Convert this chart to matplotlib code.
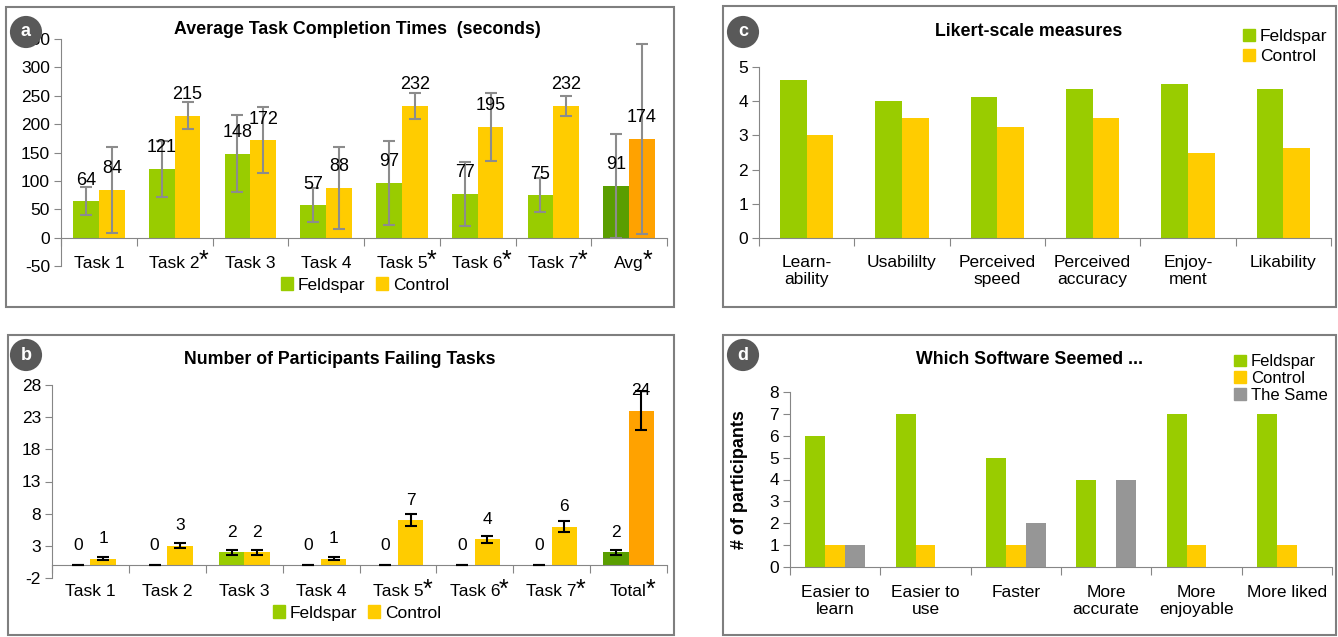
import numpy as np
import matplotlib
matplotlib.use('Agg')
import matplotlib.pyplot as plt
from matplotlib.patches import Rectangle, Patch

plt.rcParams['font.family'] = ['Liberation Sans', 'DejaVu Sans']
plt.rcParams['axes.unicode_minus'] = False

# --- data ---
tasks_a = ['Task 1', 'Task 2', 'Task 3', 'Task 4', 'Task 5', 'Task 6', 'Task 7', 'Avg']
stars_a = [False, True, False, False, True, True, True, True]
feld_time = [64, 121, 148, 57, 97, 77, 75, 91]
ctrl_time = [84, 215, 172, 88, 232, 195, 232, 174]
feld_time_err = [25, 50, 68, 30, 74, 57, 30, 92]
ctrl_time_err = [76, 24, 58, 72, 23, 60, 18, 167]

tasks_b = ['Task 1', 'Task 2', 'Task 3', 'Task 4', 'Task 5', 'Task 6', 'Task 7', 'Total']
stars_b = [False, False, False, False, True, True, True, True]
feld_fail = [0, 0, 2, 0, 0, 0, 0, 2]
ctrl_fail = [1, 3, 2, 1, 7, 4, 6, 24]
feld_fail_err = [0, 0, 0.4, 0, 0, 0, 0, 0.4]
ctrl_fail_err = [0.2, 0.4, 0.4, 0.2, 0.9, 0.6, 0.8, 3.0]

likert_items = ['Learn-\nability', 'Usabililty', 'Perceived\nspeed', 'Perceived\naccuracy',
                'Enjoy-\nment', 'Likability']
feld_likert = [4.63, 4.0, 4.12, 4.37, 4.5, 4.37]
ctrl_likert = [3.0, 3.51, 3.25, 3.5, 2.5, 2.63]

pref_items = ['Easier to\nlearn', 'Easier to\nuse', 'Faster', 'More\naccurate',
              'More\nenjoyable', 'More liked']
pref_feld = [6, 7, 5, 4, 7, 7]
pref_ctrl = [1, 1, 1, 0, 1, 1]
pref_same = [1, 0, 2, 4, 0, 0]

GREEN = '#99cc00'
YELLOW = '#ffcc00'
DKGREEN = '#5a9e00'
ORANGE = '#ffa200'
GRAY = '#969696'
AXC = '#868686'
FS = 12.5

W, H = 1338, 637
fig = plt.figure(figsize=(W / 100, H / 100), dpi=100)


def px_axes(x0, y0, x1, y1):
    # pixel box (top-left origin) -> figure axes
    return fig.add_axes([x0 / W, 1 - y1 / H, (x1 - x0) / W, (y1 - y0) / H])


def frame(x0, y0, x1, y1):
    fig.add_artist(Rectangle((x0 / W, 1 - y1 / H), (x1 - x0) / W, (y1 - y0) / H,
                             transform=fig.transFigure, fill=False, ec='#7f7f7f', lw=1.5))


def setup(ax, n, ylim, yticks):
    ax.set_xlim(-0.5, n - 0.5)
    ax.set_ylim(*ylim)
    ax.set_yticks(yticks)
    for s in ['top', 'right']:
        ax.spines[s].set_visible(False)
    ax.spines['bottom'].set_position(('data', 0))
    ax.spines['left'].set_color(AXC)
    ax.spines['bottom'].set_color(AXC)
    ax.set_xticks(np.arange(n + 1) - 0.5)
    ax.tick_params(axis='x', length=6, color=AXC, labelbottom=False)
    ax.tick_params(axis='y', length=5, color=AXC, labelsize=FS, pad=3)
    ax.patch.set_alpha(0)


def cat_labels(ax, labels, stars=None, dy=0, va='center'):
    for i, lab in enumerate(labels):
        t = ax.annotate(lab, xy=(i, 0), xycoords=('data', 'axes fraction'),
                        xytext=(0, dy), textcoords='offset pixels',
                        ha='center', va=va, fontsize=FS, linespacing=1.2)
        if stars and stars[i]:
            ax.annotate('*', xy=(1, 0.5), xycoords=t, xytext=(-1, 2),
                        textcoords='offset pixels', ha='left', va='center', fontsize=18)


def value_labels(ax, xs, vals, dy, fs):
    for xi, v in zip(xs, vals):
        ax.annotate(f'{v:g}', xy=(xi, v), xytext=(0, dy), textcoords='offset pixels',
                    ha='center', va='center', fontsize=fs)


def badge(x, y, letter):
    fig.text(x / W, 1 - y / H, letter, ha='center', va='center', color='white',
             fontsize=13, fontweight='bold',
             bbox=dict(boxstyle='circle,pad=0.42', fc='#595959', ec='none'))


def title(x, y, s):
    fig.text(x / W, 1 - y / H, s, ha='center', va='center', fontsize=12.8, fontweight='bold')


def legend(handles, size=FS, **kw):
    fig.legend(handles=handles, frameon=False, prop={'size': size}, handlelength=0.7,
               handleheight=0.7, handletextpad=0.3, borderpad=0, **kw)


# --- panel frames ---
frame(6, 7, 674, 307)
frame(8, 335, 674, 635)
frame(723, 6, 1336, 307)
frame(723, 335, 1336, 635)

# --- a) completion times ---
ax = px_axes(61, 39, 667, 266)
n = len(tasks_a)
x = np.arange(n)
w = 0.34
setup(ax, n, (-50, 350), np.arange(-50, 351, 50))
fcol = [GREEN] * (n - 1) + [DKGREEN]
ccol = [YELLOW] * (n - 1) + [ORANGE]
ax.bar(x - w / 2, feld_time, w, color=fcol, zorder=2)
ax.bar(x + w / 2, ctrl_time, w, color=ccol, zorder=2)
ax.errorbar(x - w / 2, feld_time, yerr=feld_time_err, fmt='none', ecolor='#8c8c8c',
            elinewidth=1.5, capsize=4, capthick=1.5, zorder=3)
ax.errorbar(x + w / 2, ctrl_time, yerr=ctrl_time_err, fmt='none', ecolor='#8c8c8c',
            elinewidth=1.5, capsize=4, capthick=1.5, zorder=3)
value_labels(ax, x - w / 2, feld_time, 21, 13)
value_labels(ax, x + w / 2, ctrl_time, 21, 13)
cat_labels(ax, tasks_a, stars_a, dy=3, va='center')
legend([Patch(color=GREEN, label='Feldspar'), Patch(color=YELLOW, label='Control')],
       loc='center', bbox_to_anchor=(365 / W, 1 - 285 / H), ncol=2, columnspacing=0.6)
title(357, 30, 'Average Task Completion Times  (seconds)')
badge(26, 32, 'a')

# --- b) failures ---
ax = px_axes(52, 385, 667, 578)
n = len(tasks_b)
x = np.arange(n)
w = 0.33
setup(ax, n, (-2, 28), np.arange(-2, 29, 5))
fcol = [GREEN] * (n - 1) + [DKGREEN]
ccol = [YELLOW] * (n - 1) + [ORANGE]
ax.bar(x - w / 2, feld_fail, w, color=fcol, zorder=2)
ax.bar(x + w / 2, ctrl_fail, w, color=ccol, zorder=2)
ax.errorbar(x - w / 2, feld_fail, yerr=feld_fail_err, fmt='none', ecolor='black',
            elinewidth=1.5, capsize=4, capthick=1.5, zorder=3)
ax.errorbar(x + w / 2, ctrl_fail, yerr=ctrl_fail_err, fmt='none', ecolor='black',
            elinewidth=1.5, capsize=4, capthick=1.5, zorder=3)
value_labels(ax, x - w / 2, feld_fail, 20, 12.5)
value_labels(ax, x + w / 2, ctrl_fail, 20, 12.5)
cat_labels(ax, tasks_b, stars_b, dy=-14, va='center')
legend([Patch(color=GREEN, label='Feldspar'), Patch(color=YELLOW, label='Control')],
       loc='center', bbox_to_anchor=(357 / W, 1 - 613 / H), ncol=2, columnspacing=0.6)
title(340, 360, 'Number of Participants Failing Tasks')
badge(26, 355, 'b')

# --- c) likert ---
ax = px_axes(759, 67, 1331, 238)
n = len(likert_items)
x = np.arange(n)
w = 0.28
setup(ax, n, (0, 5), np.arange(0, 6, 1))
ax.bar(x - w / 2, feld_likert, w, color=GREEN, zorder=2)
ax.bar(x + w / 2, ctrl_likert, w, color=YELLOW, zorder=2)
cat_labels(ax, likert_items, dy=-17, va='top')
legend([Patch(color=GREEN, label='Feldspar'), Patch(color=YELLOW, label='Control')],
       loc='upper left', bbox_to_anchor=(1234 / W, 1 - 20 / H), labelspacing=0.3)
title(1029, 32, 'Likert-scale measures')
badge(743, 32, 'c')

# --- d) preference ---
ax = px_axes(790, 392, 1332, 567)
n = len(pref_items)
x = np.arange(n)
w = 0.22
setup(ax, n, (0, 8), np.arange(0, 9, 1))
ax.bar(x - w, pref_feld, w, color=GREEN, zorder=2)
ax.bar(x, pref_ctrl, w, color=YELLOW, zorder=2)
ax.bar(x + w, pref_same, w, color=GRAY, zorder=2)
ax.set_ylabel('# of participants', fontsize=13, fontweight='bold')
ax.yaxis.set_label_coords(-0.078, 0.5)
cat_labels(ax, pref_items, dy=-18, va='top')
legend([Patch(color=GREEN, label='Feldspar'), Patch(color=YELLOW, label='Control'),
        Patch(color=GRAY, label='The Same')], size=12,
       loc='upper left', bbox_to_anchor=(1226 / W, 1 - 346 / H), labelspacing=0.1)
title(1029, 360, 'Which Software Seemed ...')
badge(743, 355, 'd')

fig.savefig('out.png', dpi=100)
